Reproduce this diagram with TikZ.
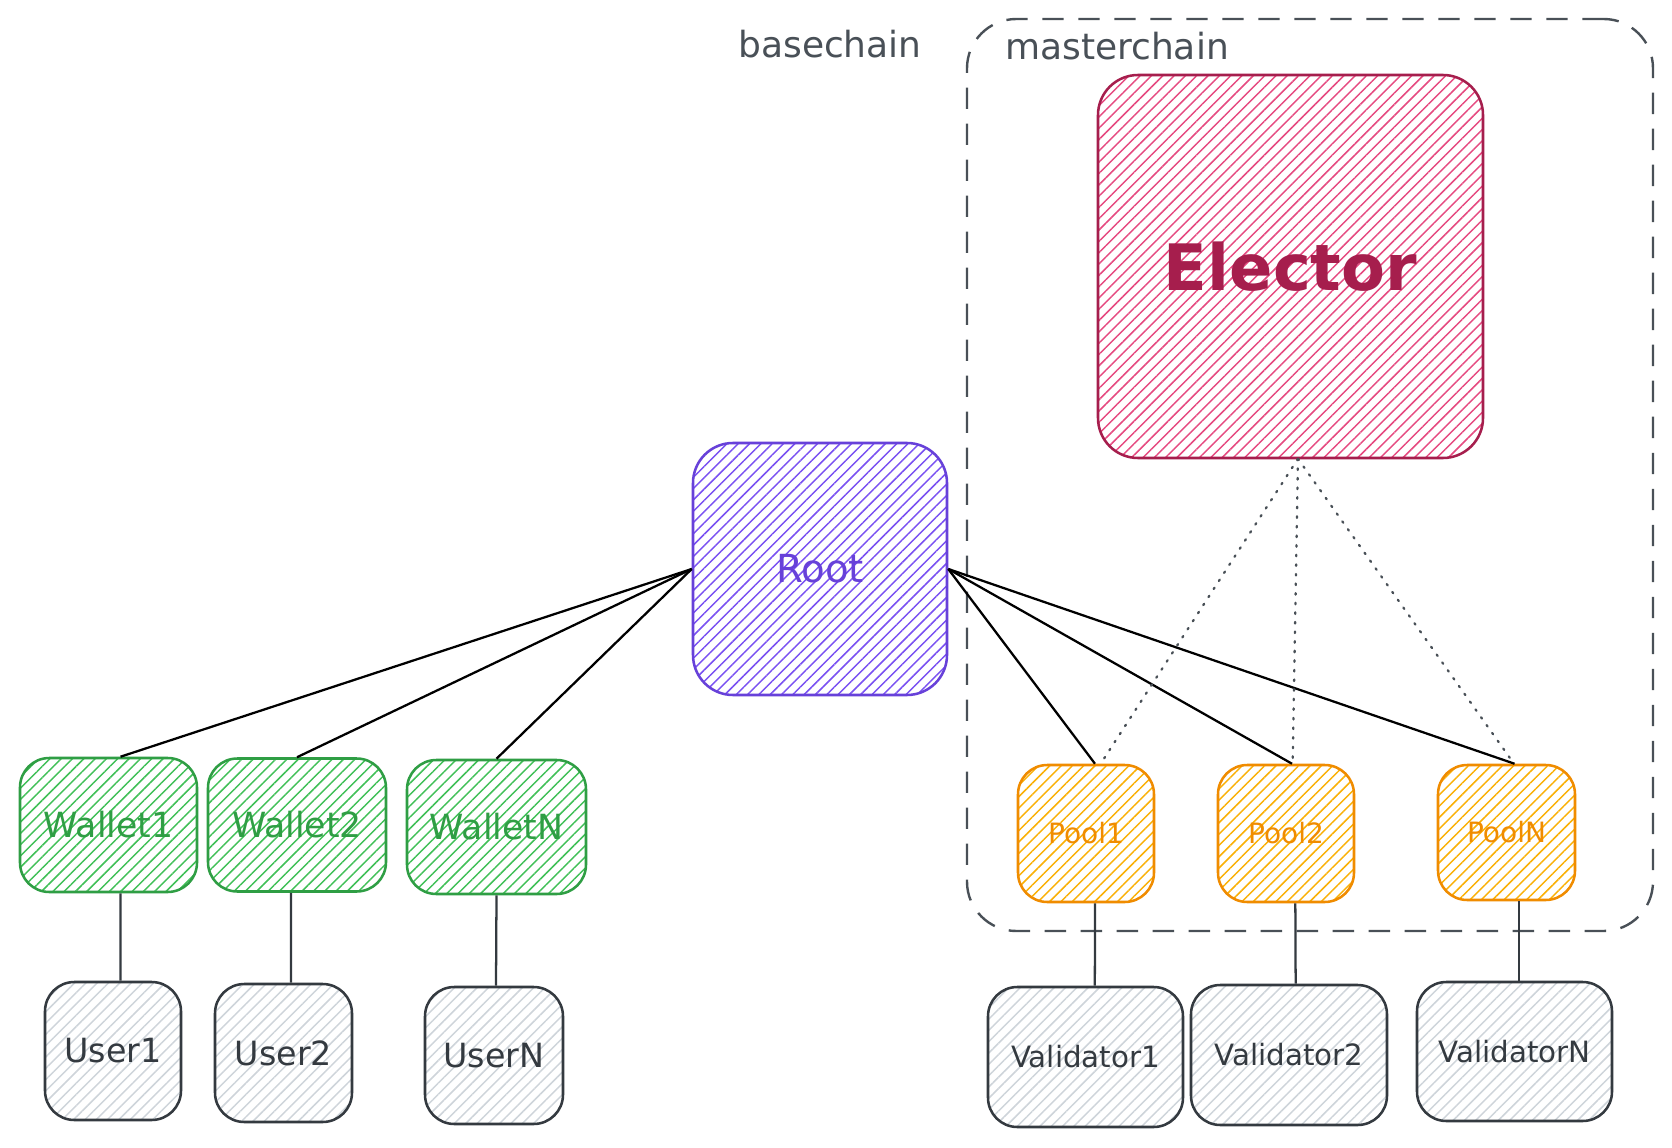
\documentclass[tikz,border=0pt]{standalone}
\usepackage{fontspec}
\setmainfont{DejaVu Sans}
\usetikzlibrary{patterns.meta}
\definecolor{elS}{HTML}{A61E4D}
\definecolor{elF}{HTML}{E64980}
\definecolor{roS}{HTML}{6741D9}
\definecolor{roF}{HTML}{7950F2}
\definecolor{waS}{HTML}{2F9E44}
\definecolor{waF}{HTML}{40C057}
\definecolor{poS}{HTML}{F08C00}
\definecolor{poF}{HTML}{FAB005}
\definecolor{grS}{HTML}{343A40}
\definecolor{grF}{HTML}{CED4DA}
\definecolor{lab}{HTML}{495057}
\begin{document}
\begin{tikzpicture}[x=0.75pt,y=-0.75pt,
  box/.style={draw, line width=1.9pt, rounded corners=22pt, inner sep=0pt},
  hatch/.style={pattern={Lines[angle=45,distance=6pt,line width=1.1pt]}, pattern color=#1},
  sz/.style 2 args={minimum width=#1*0.75pt, minimum height=#2*0.75pt},
  elbox/.style={box, draw=elS, hatch=elF, text=elS, rounded corners=30pt,
    font=\fontsize{48}{56}\selectfont\bfseries},
  robox/.style={box, draw=roS, hatch=roF, text=roS, rounded corners=30pt,
    font=\fontsize{29}{34}\selectfont},
  wabox/.style={box, draw=waS, hatch=waF, text=waS, font=\fontsize{26}{31}\selectfont},
  pobox/.style={box, draw=poS, hatch=poF, text=poS, font=\fontsize{21}{25}\selectfont},
  usbox/.style={box, draw=grS, hatch=grF, text=grS, font=\fontsize{25}{30}\selectfont},
  vabox/.style={box, draw=grS, hatch=grF, text=grS, font=\fontsize{22}{26}\selectfont},
  lbl/.style={text=lab, inner sep=0pt, font=\fontsize{27}{32}\selectfont},
  dashbox/.style={draw=lab, line width=1.8pt, rounded corners=37pt, dash pattern=on 16pt off 11pt, inner sep=0pt},
  conn/.style={draw=black, line width=1.7pt},
  vconn/.style={draw=grS, line width=1.7pt},
  dotl/.style={draw=lab, line width=1.7pt, line cap=round, dash pattern=on 1.2pt off 6pt}
]
\useasboundingbox (0,0) rectangle (1672,1148);
\fill[white] (0,0) rectangle (1672,1148);

% container
\node[dashbox, sz={686}{912}] (mc) at (1310,475) {};

% labels
\node[lbl, anchor=base] (bc) at (830,58) {basechain};
\node[lbl, anchor=base] (mcl) at (1117,60) {masterchain};

% main boxes
\node[elbox, sz={385}{383}] (el) at (1290.5,266.5) {Elector};
\node[robox, sz={254}{252}] (ro) at (820,569) {Root};

% wallets
\node[wabox, sz={177}{134}] (w1) at (108.5,825) {Wallet1};
\node[wabox, sz={178}{133}] (w2) at (297,825) {Wallet2};
\node[wabox, sz={179}{134}] (wn) at (496.5,827) {WalletN};

% users
\node[usbox, sz={136}{138}] (u1) at (113,1051) {User1};
\node[usbox, sz={137}{138}] (u2) at (283.5,1053) {User2};
\node[usbox, sz={138}{137}] (un) at (494,1055.5) {UserN};

% pools
\node[pobox, sz={136}{137}] (p1) at (1086,833.5) {Pool1};
\node[pobox, sz={136}{137}] (p2) at (1286,833.5) {Pool2};
\node[pobox, sz={137}{135}] (pn) at (1506.5,832.5) {PoolN};

% validators
\node[vabox, sz={195}{140}] (v1) at (1085.5,1057) {Validator1};
\node[vabox, sz={196}{140}] (v2) at (1289,1055) {Validator2};
\node[vabox, sz={195}{139}] (vn) at (1514.5,1051.5) {ValidatorN};

% root connectors
\draw[conn] (ro.west) -- ([xshift=9pt]w1.north);
\draw[conn] (ro.west) -- (w2.north);
\draw[conn] (ro.west) -- (wn.north);
\draw[conn] (ro.east) -- ([xshift=6.75pt]p1.north);
\draw[conn] (ro.east) -- ([xshift=4.5pt]p2.north);
\draw[conn] (ro.east) -- ([xshift=6pt]pn.north);

% elector dotted
\draw[dotl] ([xshift=5.6pt]el.south) -- ([xshift=11pt]p1.north);
\draw[dotl] ([xshift=5.6pt]el.south) -- ([xshift=5pt]p2.north);
\draw[dotl] ([xshift=5.6pt]el.south) -- ([xshift=5.6pt]pn.north);

% vertical connectors
\draw[vconn] ([xshift=9pt]w1.south) -- ([xshift=5.6pt]u1.north);
\draw[vconn] ([xshift=-4.5pt]w2.south) -- ([xshift=5.6pt]u2.north);
\draw[vconn] (wn.south) -- ([xshift=1.5pt]un.north);
\draw[vconn] ([xshift=6.75pt]p1.south) -- ([xshift=7pt]v1.north);
\draw[vconn] ([xshift=7pt]p2.south) -- ([xshift=5pt]v2.north);
\draw[vconn] ([xshift=9.4pt]pn.south) -- ([xshift=3.4pt]vn.north);
\end{tikzpicture}
\end{document}
